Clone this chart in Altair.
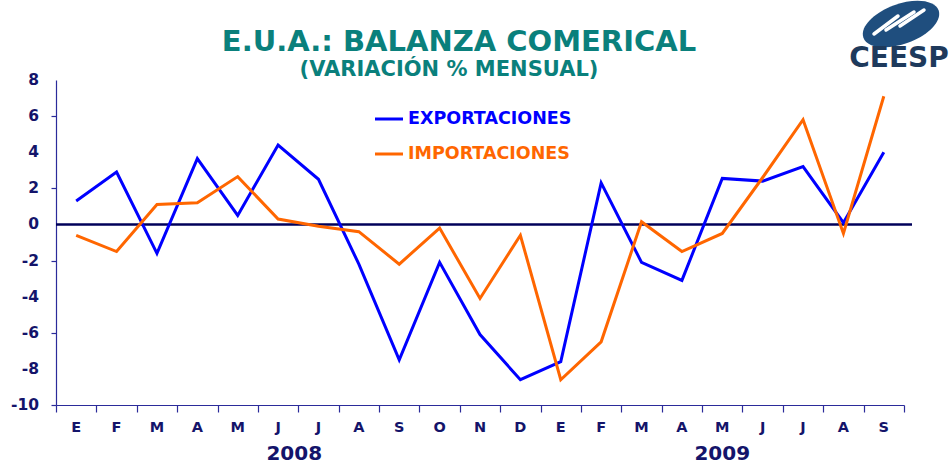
import altair as alt
import pandas as pd

months = ["E", "F", "M", "A", "M", "J", "J", "A", "S", "O", "N", "D",
          "E", "F", "M", "A", "M", "J", "J", "A", "S"]
exportaciones = [1.3, 2.9, -1.6, 3.65, 0.5, 4.4, 2.5, -2.2, -7.5, -2.1, -6.1, -8.6,
                 -7.6, 2.3, -2.1, -3.1, 2.55, 2.4, 3.2, 0.1, 4.0]
importaciones = [-0.6, -1.5, 1.1, 1.2, 2.65, 0.3, -0.1, -0.4, -2.2, -0.2, -4.1, -0.6,
                 -8.6, -6.5, 0.15, -1.5, -0.5, 2.6, 5.8, -0.5, 7.1]
series_names = ["EXPORTACIONES", "IMPORTACIONES"]
series_colors = ["#0000FF", "#FF6600"]
years = ["2008", "2009"]
year_pos = [5.9, 16.5]
y_ticks = [-10, -8, -6, -4, -2, 0, 2, 4, 6, 8]
title_text = "E.U.A.: BALANZA COMERICAL"
subtitle_text = "(VARIACIÓN % MENSUAL)"

W, H = 848, 325
FONT = "DejaVu Sans"
NAVY = "#14146A"
TEAL = "#0A807C"

rows = []
for i, m in enumerate(months):
    rows.append({"i": i + 0.5, "v": exportaciones[i], "s": series_names[0]})
    rows.append({"i": i + 0.5, "v": importaciones[i], "s": series_names[1]})
df = pd.DataFrame(rows)
mdf = pd.DataFrame({"i": [k + 0.5 for k in range(len(months))], "m": months})
ydf = pd.DataFrame({"i": year_pos, "t": years})
tdf = pd.DataFrame({"v": y_ticks, "t": [str(t) for t in y_ticks]})
zdf = pd.DataFrame({"v": [0]})

xscale = alt.Scale(domain=[0, 21], nice=False, zero=False)
yscale = alt.Scale(domain=[-10, 8], nice=False, zero=False)
cscale = alt.Scale(domain=series_names, range=series_colors)

x_axis = alt.Axis(values=list(range(22)), labels=False, ticks=True, tickSize=7,
                  tickColor="#2B2B9A", domainColor="#2B2B9A", grid=False, title=None,
                  domainWidth=1.2, tickWidth=1.2)
y_axis = alt.Axis(values=y_ticks, labels=False, ticks=True, tickSize=5,
                  tickColor="#2B2B9A", domainColor="#2B2B9A", grid=False, title=None,
                  domainWidth=1.2, tickWidth=1.2)

lines = alt.Chart(df).mark_line(strokeWidth=3).encode(
    x=alt.X("i:Q", scale=xscale, axis=x_axis),
    y=alt.Y("v:Q", scale=yscale, axis=y_axis),
    color=alt.Color("s:N", scale=cscale, legend=None),
    detail="s:N",
)

zero = alt.Chart(zdf).mark_rule(color="#00005A", strokeWidth=2.5).encode(
    y=alt.Y("v:Q", scale=yscale), x=alt.value(0), x2=alt.value(856)
)

ylabels = alt.Chart(tdf).mark_text(align="right", baseline="middle", font=FONT,
                                   fontWeight="bold", fontSize=15.5, color=NAVY).encode(
    y=alt.Y("v:Q", scale=yscale), x=alt.value(-17), text="t:N"
)

mlabels = alt.Chart(mdf).mark_text(align="center", baseline="middle", font=FONT,
                                   fontWeight="bold", fontSize=14.5, color=NAVY).encode(
    x=alt.X("i:Q", scale=xscale), y=alt.value(348), text="m:N"
)

ylab = alt.Chart(ydf).mark_text(align="center", baseline="middle", font=FONT,
                                fontWeight="bold", fontSize=20, color=NAVY).encode(
    x=alt.X("i:Q", scale=xscale), y=alt.value(374), text="t:N"
)

leg_df = pd.DataFrame({"s": series_names, "py": [39, 74]})
leg_lines = alt.Chart(leg_df).mark_rule(strokeWidth=3).encode(
    x=alt.value(319), x2=alt.value(347), y=alt.Y("py:Q", scale=None),
    color=alt.Color("s:N", scale=cscale, legend=None),
)
leg_text = alt.Chart(leg_df).mark_text(align="left", baseline="middle", font=FONT,
                                       fontWeight="bold", fontSize=17.5).encode(
    x=alt.value(352), y=alt.Y("py:Q", scale=None), text="s:N",
    color=alt.Color("s:N", scale=cscale, legend=None),
)

title = alt.Chart(pd.DataFrame({"t": [title_text]})).mark_text(
    align="center", baseline="alphabetic", font=FONT, fontWeight="bold", fontSize=29,
    color=TEAL).encode(x=alt.value(403), y=alt.value(-29), text="t:N")
subtitle = alt.Chart(pd.DataFrame({"t": [subtitle_text]})).mark_text(
    align="center", baseline="alphabetic", font=FONT, fontWeight="bold", fontSize=21,
    color=TEAL).encode(x=alt.value(393), y=alt.value(-4), text="t:N")

# logo
ellipse = alt.Chart(pd.DataFrame({"a": [0]})).mark_point(
    shape="M-1,0 A1,0.5 0 1,1 1,0 A1,0.5 0 1,1 -1,0 Z",
    filled=True, color="#1F4E7E", opacity=1, size=6400, angle=340).encode(
    x=alt.value(845), y=alt.value(-56))
stripe_df = pd.DataFrame({"x1": [818, 830, 844], "y1": [-46, -50, -54],
                          "x2": [842, 858, 868], "y2": [-64, -68, -70]})
stripes = alt.Chart(stripe_df).mark_rule(color="white", strokeWidth=3.5, strokeCap="round").encode(
    x=alt.X("x1:Q", scale=None), x2="x2:Q", y=alt.Y("y1:Q", scale=None), y2="y2:Q")
logo_text = alt.Chart(pd.DataFrame({"t": ["CEESP"]})).mark_text(
    align="center", baseline="alphabetic", font=FONT, fontWeight="bold", fontSize=28,
    color="#1E3A5C").encode(x=alt.value(843), y=alt.value(-13), text="t:N")

chart = alt.layer(
    zero, lines, ylabels, mlabels, ylab, leg_lines, leg_text, title, subtitle,
    ellipse, stripes, logo_text
).properties(
    width=W, height=H,
    autosize=alt.AutoSizeParams(type="none"),
    padding={"left": 56, "top": 80, "right": 48, "bottom": 59},
    background="white",
).configure_view(stroke=None)

chart.save("out.html", embed_options={"renderer": "svg", "actions": False})
